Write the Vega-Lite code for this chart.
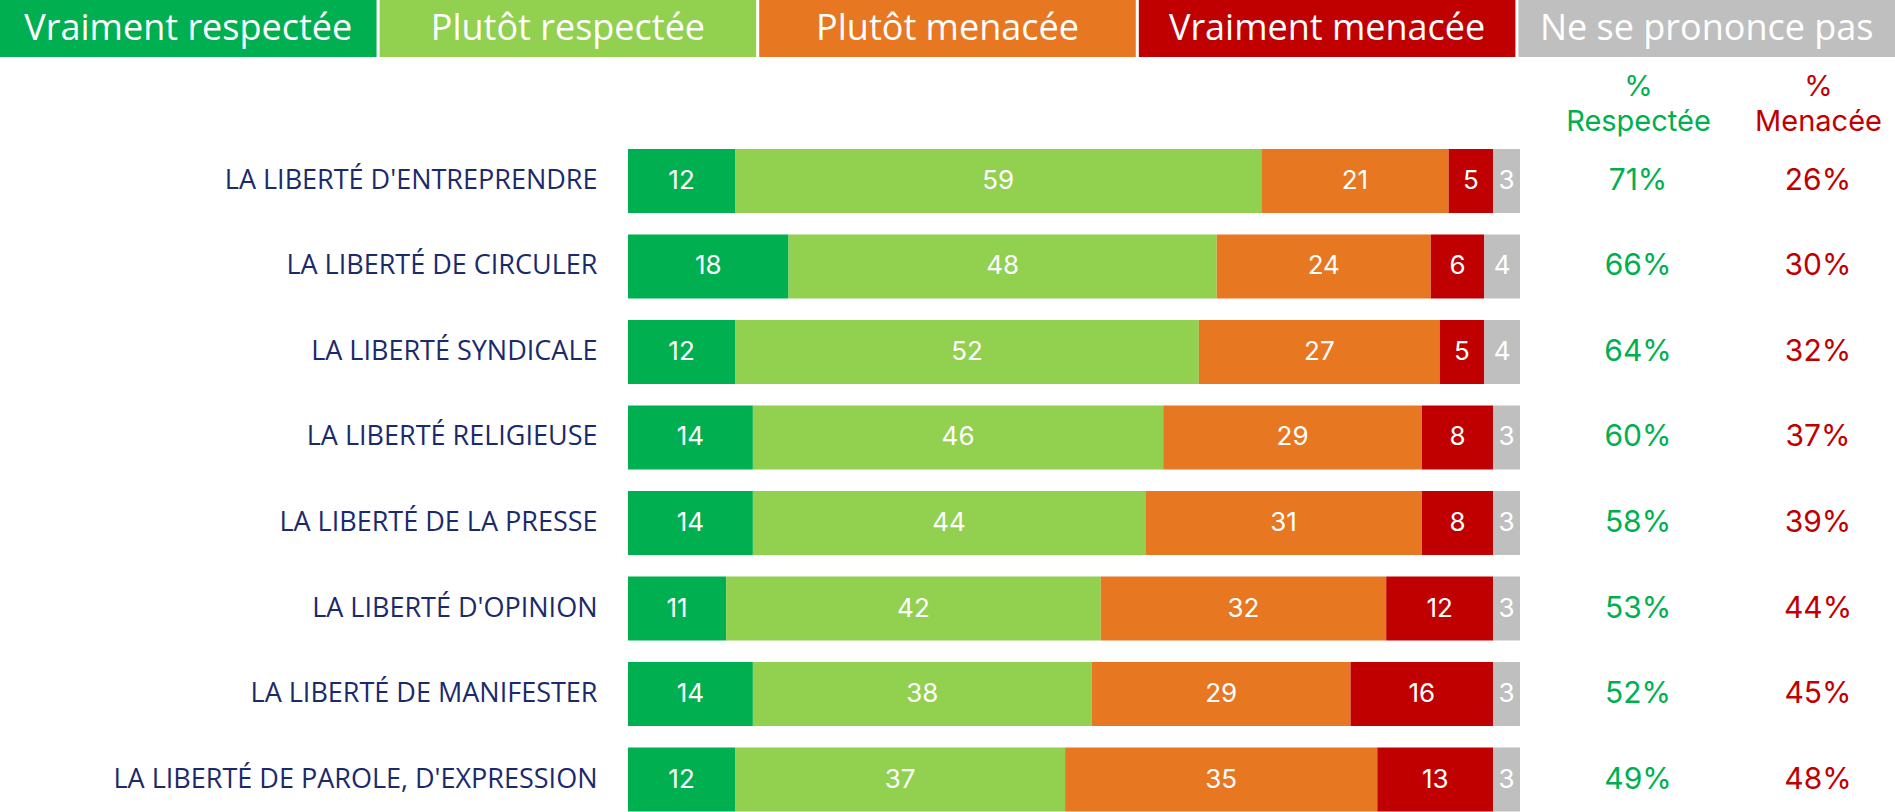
{
  "$schema": "https://vega.github.io/schema/vega-lite/v6.json",
  "padding": 0,
  "background": "white",
  "config": {"view": {"stroke": null}, "font": "Open Sans"},
  "bounds": "flush",
  "spacing": 92,
  "datasets": {
    "legend": [
      {"cat": "Vraiment respectée"},
      {"cat": "Plutôt respectée"},
      {"cat": "Plutôt menacée"},
      {"cat": "Vraiment menacée"},
      {"cat": "Ne se prononce pas"}
    ],
    "bars": [
      {"item": "La liberté d'entreprendre", "cat": "Vraiment respectée", "order": 1, "value": 12},
      {"item": "La liberté d'entreprendre", "cat": "Plutôt respectée", "order": 2, "value": 59},
      {"item": "La liberté d'entreprendre", "cat": "Plutôt menacée", "order": 3, "value": 21},
      {"item": "La liberté d'entreprendre", "cat": "Vraiment menacée", "order": 4, "value": 5},
      {"item": "La liberté d'entreprendre", "cat": "Ne se prononce pas", "order": 5, "value": 3},
      {"item": "La liberté de circuler", "cat": "Vraiment respectée", "order": 1, "value": 18},
      {"item": "La liberté de circuler", "cat": "Plutôt respectée", "order": 2, "value": 48},
      {"item": "La liberté de circuler", "cat": "Plutôt menacée", "order": 3, "value": 24},
      {"item": "La liberté de circuler", "cat": "Vraiment menacée", "order": 4, "value": 6},
      {"item": "La liberté de circuler", "cat": "Ne se prononce pas", "order": 5, "value": 4},
      {"item": "La liberté syndicale", "cat": "Vraiment respectée", "order": 1, "value": 12},
      {"item": "La liberté syndicale", "cat": "Plutôt respectée", "order": 2, "value": 52},
      {"item": "La liberté syndicale", "cat": "Plutôt menacée", "order": 3, "value": 27},
      {"item": "La liberté syndicale", "cat": "Vraiment menacée", "order": 4, "value": 5},
      {"item": "La liberté syndicale", "cat": "Ne se prononce pas", "order": 5, "value": 4},
      {"item": "La liberté religieuse", "cat": "Vraiment respectée", "order": 1, "value": 14},
      {"item": "La liberté religieuse", "cat": "Plutôt respectée", "order": 2, "value": 46},
      {"item": "La liberté religieuse", "cat": "Plutôt menacée", "order": 3, "value": 29},
      {"item": "La liberté religieuse", "cat": "Vraiment menacée", "order": 4, "value": 8},
      {"item": "La liberté religieuse", "cat": "Ne se prononce pas", "order": 5, "value": 3},
      {"item": "La liberté de la presse", "cat": "Vraiment respectée", "order": 1, "value": 14},
      {"item": "La liberté de la presse", "cat": "Plutôt respectée", "order": 2, "value": 44},
      {"item": "La liberté de la presse", "cat": "Plutôt menacée", "order": 3, "value": 31},
      {"item": "La liberté de la presse", "cat": "Vraiment menacée", "order": 4, "value": 8},
      {"item": "La liberté de la presse", "cat": "Ne se prononce pas", "order": 5, "value": 3},
      {"item": "La liberté d'opinion", "cat": "Vraiment respectée", "order": 1, "value": 11},
      {"item": "La liberté d'opinion", "cat": "Plutôt respectée", "order": 2, "value": 42},
      {"item": "La liberté d'opinion", "cat": "Plutôt menacée", "order": 3, "value": 32},
      {"item": "La liberté d'opinion", "cat": "Vraiment menacée", "order": 4, "value": 12},
      {"item": "La liberté d'opinion", "cat": "Ne se prononce pas", "order": 5, "value": 3},
      {"item": "La liberté de manifester", "cat": "Vraiment respectée", "order": 1, "value": 14},
      {"item": "La liberté de manifester", "cat": "Plutôt respectée", "order": 2, "value": 38},
      {"item": "La liberté de manifester", "cat": "Plutôt menacée", "order": 3, "value": 29},
      {"item": "La liberté de manifester", "cat": "Vraiment menacée", "order": 4, "value": 16},
      {"item": "La liberté de manifester", "cat": "Ne se prononce pas", "order": 5, "value": 3},
      {"item": "La liberté de parole, d'expression", "cat": "Vraiment respectée", "order": 1, "value": 12},
      {"item": "La liberté de parole, d'expression", "cat": "Plutôt respectée", "order": 2, "value": 37},
      {"item": "La liberté de parole, d'expression", "cat": "Plutôt menacée", "order": 3, "value": 35},
      {"item": "La liberté de parole, d'expression", "cat": "Vraiment menacée", "order": 4, "value": 13},
      {"item": "La liberté de parole, d'expression", "cat": "Ne se prononce pas", "order": 5, "value": 3}
    ],
    "pct": [
      {"item": "La liberté d'entreprendre", "measure": "Respectée", "pct": 0.71},
      {"item": "La liberté d'entreprendre", "measure": "Menacée", "pct": 0.26},
      {"item": "La liberté de circuler", "measure": "Respectée", "pct": 0.66},
      {"item": "La liberté de circuler", "measure": "Menacée", "pct": 0.30},
      {"item": "La liberté syndicale", "measure": "Respectée", "pct": 0.64},
      {"item": "La liberté syndicale", "measure": "Menacée", "pct": 0.32},
      {"item": "La liberté religieuse", "measure": "Respectée", "pct": 0.60},
      {"item": "La liberté religieuse", "measure": "Menacée", "pct": 0.37},
      {"item": "La liberté de la presse", "measure": "Respectée", "pct": 0.58},
      {"item": "La liberté de la presse", "measure": "Menacée", "pct": 0.39},
      {"item": "La liberté d'opinion", "measure": "Respectée", "pct": 0.53},
      {"item": "La liberté d'opinion", "measure": "Menacée", "pct": 0.44},
      {"item": "La liberté de manifester", "measure": "Respectée", "pct": 0.52},
      {"item": "La liberté de manifester", "measure": "Menacée", "pct": 0.45},
      {"item": "La liberté de parole, d'expression", "measure": "Respectée", "pct": 0.49},
      {"item": "La liberté de parole, d'expression", "measure": "Menacée", "pct": 0.48}
    ]
  },
  "vconcat": [
    {
      "width": 1895,
      "height": 57,
      "data": {"name": "legend"},
      "layer": [
        {
          "mark": {"type": "bar"},
          "encoding": {
            "x": {"field": "cat", "type": "nominal", "sort": ["Vraiment respectée", "Plutôt respectée", "Plutôt menacée", "Vraiment menacée", "Ne se prononce pas"], "scale": {"paddingInner": 0.008, "paddingOuter": 0}, "axis": null},
            "color": {"field": "cat", "type": "nominal", "scale": {"domain": ["Vraiment respectée", "Plutôt respectée", "Plutôt menacée", "Vraiment menacée", "Ne se prononce pas"], "range": ["#00B050", "#92D050", "#E87722", "#C00000", "#BFBFBF"]}, "legend": null}
          }
        },
        {
          "mark": {"type": "text", "color": "white", "fontSize": 36, "font": "Open Sans", "baseline": "middle"},
          "encoding": {
            "x": {"field": "cat", "type": "nominal", "sort": ["Vraiment respectée", "Plutôt respectée", "Plutôt menacée", "Vraiment menacée", "Ne se prononce pas"]},
            "text": {"field": "cat"}
          }
        }
      ]
    },
    {
      "width": 1895,
      "height": 662.5,
      "layer": [
        {
          "data": {"name": "bars"},
          "transform": [
            {"stack": "value", "groupby": ["item"], "sort": [{"field": "order"}], "as": ["v0", "v1"]},
            {"calculate": "(datum.v0 + datum.v1) / 2", "as": "mid"}
          ],
          "layer": [
            {
              "mark": {"type": "bar"},
              "encoding": {
                "y": {"field": "item", "type": "nominal", "sort": ["La liberté d'entreprendre", "La liberté de circuler", "La liberté syndicale", "La liberté religieuse", "La liberté de la presse", "La liberté d'opinion", "La liberté de manifester", "La liberté de parole, d'expression"], "scale": {"paddingInner": 0.2515, "paddingOuter": 0},
                  "axis": {"orient": "left", "offset": -600, "title": null, "domain": false, "ticks": false, "labelPadding": 3, "labelExpr": "upper(datum.label)", "labelFont": "Open Sans", "labelFontSize": 27, "labelColor": "#1B2A6B", "labelLimit": 600}},
                "x": {"field": "v0", "type": "quantitative", "scale": {"domain": [0, 100], "range": [628, 1520]}, "axis": null},
                "x2": {"field": "v1"},
                "color": {"field": "cat", "type": "nominal", "scale": {"domain": ["Vraiment respectée", "Plutôt respectée", "Plutôt menacée", "Vraiment menacée", "Ne se prononce pas"], "range": ["#00B050", "#92D050", "#E87722", "#C00000", "#BFBFBF"]}, "legend": null}
              }
            },
            {
              "mark": {"type": "text", "color": "white", "fontSize": 26, "font": "Inter", "baseline": "middle"},
              "encoding": {
                "y": {"field": "item", "type": "nominal", "sort": ["La liberté d'entreprendre", "La liberté de circuler", "La liberté syndicale", "La liberté religieuse", "La liberté de la presse", "La liberté d'opinion", "La liberté de manifester", "La liberté de parole, d'expression"]},
                "x": {"field": "mid", "type": "quantitative"},
                "text": {"field": "value", "type": "quantitative"}
              }
            }
          ]
        },
        {
          "data": {"name": "pct"},
          "mark": {"type": "text", "fontSize": 30, "font": "Inter", "baseline": "middle"},
          "encoding": {
            "y": {"field": "item", "type": "nominal", "sort": ["La liberté d'entreprendre", "La liberté de circuler", "La liberté syndicale", "La liberté religieuse", "La liberté de la presse", "La liberté d'opinion", "La liberté de manifester", "La liberté de parole, d'expression"]},
            "x": {"field": "measure", "type": "nominal", "sort": ["Respectée", "Menacée"], "scale": {"type": "point", "padding": 0, "range": [1638, 1818]},
              "axis": {"orient": "top", "title": null, "domain": false, "ticks": false, "labelAngle": 0, "labelPadding": 48, "labelExpr": "['%', datum.label]", "labelFont": "Inter", "labelFontSize": 29, "labelLineHeight": 35, "labelColor": {"condition": {"test": "datum.value === 'Respectée'", "value": "#00B050"}, "value": "#C00000"}}},
            "text": {"field": "pct", "type": "quantitative", "format": ".0%"},
            "color": {"field": "measure", "type": "nominal", "scale": {"domain": ["Respectée", "Menacée"], "range": ["#00B050", "#C00000"]}, "legend": null}
          }
        }
      ],
      "resolve": {"scale": {"x": "independent", "color": "independent"}, "axis": {"x": "independent"}}
    }
  ]
}
